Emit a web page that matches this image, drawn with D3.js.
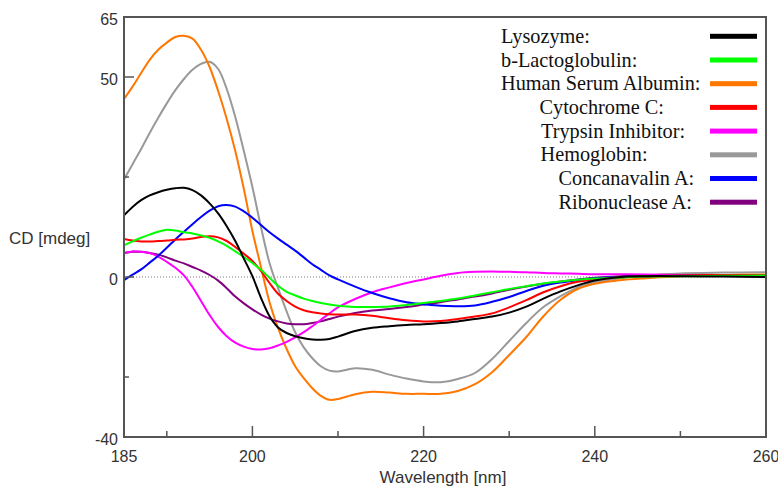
<!DOCTYPE html>
<html>
<head>
<meta charset="utf-8">
<script src="https://cdn.jsdelivr.net/npm/d3@7"></script>
<style>
  html, body { margin: 0; padding: 0; background: #fff; }
  svg { display: block; }
</style>
</head>
<body>
<svg id="chart" width="778" height="486"></svg>
<script>
// CD spectra, values (mdeg)
const wavelengths = [185,186,187,188,189,190,191,192,193,194,195,196,197,198,199,200,
  201,202,203,204,205,206,207,208,209,210,212,214,216,218,220,222,224,226,228,230,
  232,234,236,238,240,243,246,250,255,260];

const lysozyme = [15.4,17.5,19.2,20.4,21.2,21.8,22.2,22.3,21.7,20.4,18.4,15.9,12.7,9,4.6,0.2,
  -5.2,-9.8,-12.6,-14,-14.8,-15.3,-15.6,-15.7,-15.5,-14.9,-13.5,-12.7,-12.3,-12,-11.8,-11.5,
  -11.1,-10.5,-9.9,-8.9,-7.4,-5.4,-3.6,-2.1,-0.9,0,0.2,0.2,0.1,0];
const lactoglobulin = [7.9,8.9,9.8,10.6,11.3,11.8,11.6,11.2,10.9,10.4,9.8,8.9,7.8,6.4,5,3.5,
  1.8,-0.2,-2.2,-3.7,-4.6,-5.4,-6,-6.5,-6.9,-7.2,-7.5,-7.5,-7.4,-7,-6.5,-6,
  -5.4,-4.6,-3.8,-3,-2.3,-1.6,-1.1,-0.7,-0.4,-0.1,0.1,0.2,0.3,0.4];
const serumAlbumin = [44.5,47.6,51,54.3,56.8,58.6,60,60.3,59.6,56.8,52.5,46.5,39.5,31.5,22,11.5,
  2.5,-6.3,-12.8,-18,-22.3,-25.3,-27.8,-29.7,-30.7,-30.5,-29.3,-28.7,-28.9,-29.2,-29.2,-29.2,
  -28.5,-26.8,-23.8,-19.5,-15,-9.8,-5.7,-3,-1.7,-0.8,-0.3,0.2,0.5,0.6];
const cytochromeC = [9.5,9.1,8.9,8.9,9,9.1,9.3,9.4,9.6,10,10.2,9.9,9,7.5,5.8,4,
  1.5,-1.5,-4.2,-6,-7.4,-8.3,-8.8,-9.1,-9.3,-9.4,-9.4,-9.7,-10.3,-10.8,-11.1,-11,
  -10.5,-9.9,-9.1,-7.6,-5.8,-3.8,-2.3,-1.2,-0.6,-0.1,0.2,0.4,0.5,0.5];
const trypsinInhibitor = [6,6.4,6.3,6,5.1,3.8,2.3,0.4,-2.5,-6,-9.5,-12.5,-14.8,-16.4,-17.4,-18,
  -18.1,-17.8,-17.1,-16.2,-15.1,-13.8,-12.3,-10.7,-9.1,-7.6,-5.5,-3.8,-2.6,-1.5,-0.6,0.3,
  1,1.3,1.4,1.3,1.2,1,0.9,0.8,0.7,0.7,0.6,0.5,0.5,0.5];
const hemoglobin = [24.4,28.2,32,36,39.8,43.4,46.7,49.5,51.8,53.3,53.8,52,47,40,31.5,22.5,
  12.5,3.5,-2.8,-8.6,-13.8,-17.6,-20.3,-22.3,-23.4,-23.6,-22.8,-23.2,-24.4,-25.4,-26.1,-26.3,
  -25.5,-24,-20.5,-16,-11.5,-7.5,-4.8,-2.6,-1.3,-0.3,0.4,0.9,1.1,1.2];
const concanavalinA = [-0.8,0.6,1.9,3.6,5.3,7.3,9.4,11.3,13.2,15,16.6,17.7,18,17.6,16.4,14.8,
  13,11.2,9.6,8.1,6.6,4.9,3.2,1.8,0.4,-0.6,-2.4,-4,-5.3,-6.3,-6.8,-7.2,
  -7.3,-7.1,-6.2,-5,-3.5,-2.2,-1.4,-0.8,-0.3,0,0.2,0.3,0.4,0.4];
const ribonucleaseA = [6,6.3,6.3,6,5.6,4.9,4.1,3.4,2.5,1.6,0.5,-0.9,-2.8,-4.9,-6.6,-8.1,
  -9.4,-10.4,-11.1,-11.6,-11.8,-11.8,-11.5,-11.1,-10.5,-9.9,-9,-8.4,-8,-7.5,-6.9,-6.3,
  -5.6,-4.9,-4.1,-3.2,-2.4,-1.7,-1.1,-0.6,-0.2,0.2,0.4,0.5,0.5,0.5];

const seriesNames = ["Lysozyme:", "b-Lactoglobulin:", "Human Serum Albumin:", "Cytochrome C:",
  "Trypsin Inhibitor:", "Hemoglobin:", "Concanavalin A:", "Ribonuclease A:"];
const seriesValues = [lysozyme, lactoglobulin, serumAlbumin, cytochromeC,
  trypsinInhibitor, hemoglobin, concanavalinA, ribonucleaseA];
const seriesColors = ["#000000", "#00ff00", "#ff7700", "#ff0000",
  "#ff00ff", "#999999", "#0000ff", "#800080"];

const yLabelTicks = [65, 50, 0, -40];
const yMajorTicks = [50, 0];
const yMinorTicks = [25, -25];
const xLabelTicks = [185, 200, 220, 240, 260];
const xMinorTicks = [190, 210, 230, 250];

// layout
const legendIndent = [0, 0, 0, 38.5, 40, 39.5, 57.5, 57.5];
const frameColor = "#555";

let svg = d3.select("#chart");

let x = d3.scaleLinear().domain([185, 260]).range([124, 766]);
let y = d3.scaleLinear().domain([-40, 65]).range([437, 17]);

// zero line, dotted
svg.append("line")
  .attr("x1", x(185)).attr("x2", x(260))
  .attr("y1", y(0)).attr("y2", y(0))
  .attr("stroke", "#777")
  .attr("stroke-width", 1)
  .attr("stroke-dasharray", "1,2");

svg.append("defs").append("clipPath").attr("id", "plot-clip")
  .append("rect")
  .attr("x", x(185)).attr("y", y(65))
  .attr("width", x(260) - x(185)).attr("height", y(-40) - y(65));

let line = d3.line()
  .x(d => x(d[0]))
  .y(d => y(d[1]))
  .curve(d3.curveCatmullRom.alpha(0.5));

// draw order so that the busy region stacks like the original
let drawOrder = [5, 2, 7, 4, 6, 3, 1, 0];
svg.append("g").attr("clip-path", "url(#plot-clip)")
  .selectAll("path")
  .data(drawOrder)
  .join("path")
    .attr("d", i => line(wavelengths.map((w, k) => [w, seriesValues[i][k]])))
    .attr("fill", "none")
    .attr("stroke", i => seriesColors[i])
    .attr("stroke-width", 2)
    .attr("stroke-linejoin", "round");

// frame
svg.append("rect")
  .attr("x", x(185)).attr("y", y(65))
  .attr("width", x(260) - x(185)).attr("height", y(-40) - y(65))
  .attr("fill", "none")
  .attr("stroke", frameColor)
  .attr("stroke-width", 2);

// y ticks
let yTicks = svg.append("g");
yTicks.selectAll("line.major")
  .data(yMajorTicks)
  .join("line").attr("class", "major")
    .attr("x1", x(185)).attr("x2", x(185) + 10)
    .attr("y1", d => y(d)).attr("y2", d => y(d))
    .attr("stroke", frameColor).attr("stroke-width", 1.5);
yTicks.selectAll("line.minor")
  .data(yMinorTicks)
  .join("line").attr("class", "minor")
    .attr("x1", x(185)).attr("x2", x(185) + 5)
    .attr("y1", d => y(d)).attr("y2", d => y(d))
    .attr("stroke", frameColor).attr("stroke-width", 1.5);
yTicks.selectAll("text")
  .data(yLabelTicks)
  .join("text")
    .attr("x", 118)
    .attr("y", d => y(d) + 2)
    .attr("dy", "0.35em")
    .attr("text-anchor", "end")
    .attr("font-family", "Liberation Sans, Arial, sans-serif")
    .attr("font-size", 16)
    .attr("fill", "#333")
    .text(d => d);

// x ticks
let xTicks = svg.append("g");
xTicks.selectAll("line.major")
  .data(xLabelTicks)
  .join("line").attr("class", "major")
    .attr("x1", d => x(d)).attr("x2", d => x(d))
    .attr("y1", y(-40)).attr("y2", y(-40) - 11)
    .attr("stroke", frameColor).attr("stroke-width", 1.5);
xTicks.selectAll("line.minor")
  .data(xMinorTicks)
  .join("line").attr("class", "minor")
    .attr("x1", d => x(d)).attr("x2", d => x(d))
    .attr("y1", y(-40)).attr("y2", y(-40) - 6)
    .attr("stroke", frameColor).attr("stroke-width", 1.5);
xTicks.selectAll("text")
  .data(xLabelTicks)
  .join("text")
    .attr("x", d => x(d))
    .attr("y", 462)
    .attr("text-anchor", "middle")
    .attr("font-family", "Liberation Sans, Arial, sans-serif")
    .attr("font-size", 16)
    .attr("fill", "#333")
    .text(d => d);

// axis titles
svg.append("text")
  .attr("x", 443).attr("y", 483)
  .attr("text-anchor", "middle")
  .attr("font-family", "Liberation Sans, Arial, sans-serif")
  .attr("font-size", 17)
  .attr("fill", "#333")
  .text("Wavelength [nm]");
svg.append("text")
  .attr("x", 9).attr("y", 244)
  .attr("font-family", "Liberation Sans, Arial, sans-serif")
  .attr("font-size", 17)
  .attr("fill", "#333")
  .text("CD [mdeg]");

// legend
let legend = svg.append("g")
  .selectAll("g")
  .data(seriesNames)
  .join("g")
    .attr("transform", (d, i) => `translate(0 ${36.3 + i * 23.7})`);
legend.append("text")
  .attr("x", (d, i) => 501 + legendIndent[i])
  .attr("y", 6.5)
  .attr("font-family", "Liberation Serif, Times New Roman, serif")
  .attr("font-size", 20.3)
  .attr("fill", "#111")
  .text(d => d);
legend.append("rect")
  .attr("x", 710)
  .attr("y", -2.5)
  .attr("width", 47)
  .attr("height", 5)
  .attr("fill", (d, i) => seriesColors[i]);
</script>
</body>
</html>
